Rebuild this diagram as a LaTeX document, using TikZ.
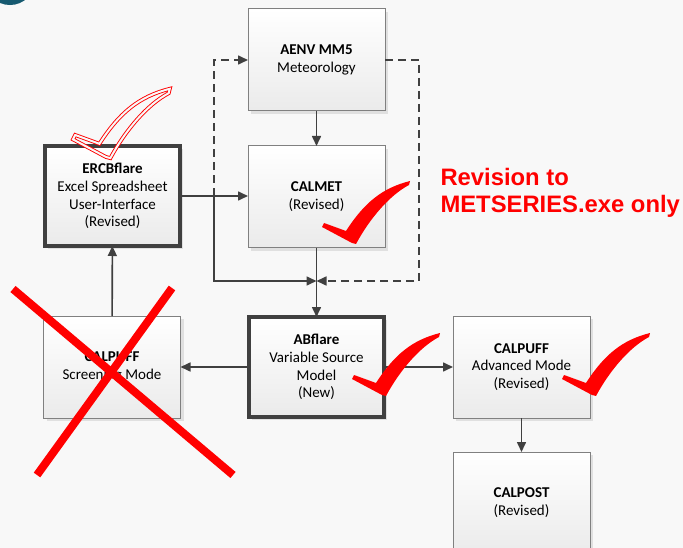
\documentclass[tikz,border=0pt]{standalone}
\usepackage{fontspec}
\setmainfont{Carlito}
\newfontfamily\arialfont{Liberation Sans}
\usetikzlibrary{positioning,arrows.meta,shadows}

\definecolor{linegray}{RGB}{64,64,64}
\definecolor{boxgray}{RGB}{128,128,128}
\definecolor{markred}{RGB}{255,0,0}
\definecolor{ringteal}{RGB}{22,90,112}
\definecolor{paper}{RGB}{248,248,248}

\tikzset{
  checkmark/.pic={
    \path[pic actions] (0,0) -- (-30,-16) -- (-28,-20) -- (-6,-12)
      .. controls (12,-40) and (30,-55) .. (58,-62) -- (57,-58)
      .. controls (38,-48) and (18,-25) .. (4,1) -- cycle;
  }
}

\begin{document}
\begin{tikzpicture}[x=1pt, y=-1pt,
    every node/.style = {align=center, font=\fontsize{15}{17.8}\selectfont},
    block/.style = {draw=boxgray, line width=1pt, minimum width=137pt, minimum height=102pt,
      inner sep=2pt, outer sep=0pt, top color=white, bottom color=black!8,
      drop shadow={shadow xshift=3pt, shadow yshift=-3pt, fill=black!12, opacity=1}},
    mainblock/.style = {block, draw=linegray, line width=4pt, minimum width=135pt, minimum height=100pt},
    link/.style = {draw=linegray, line width=1.6pt, -{Triangle[length=10pt,width=9pt]}},
    dashlink/.style = {link, dash pattern=on 8pt off 5pt}]
  \clip (0,0) rectangle (683,548);
  \fill[paper] (0,0) rectangle (683,548);
  \draw[ringteal, line width=5pt] (10,-20) circle (22.5);

  % boxes
  \node[block] (aenv) at (316.5,60) {\textbf{AENV MM5}\\Meteorology};
  \node[block] (calmet) at (316.5,197) {\textbf{CALMET}\\(Revised)};
  \node[mainblock] (ercb) at (112.5,196) {\textbf{ERCBflare}\\Excel Spreadsheet\\User-Interface\\(Revised)};
  \node[block] (screen) at (112,367) {\textbf{CALPUFF}\\Screening Mode};
  \node[mainblock] (abflare) at (316.5,367) {\textbf{ABflare}\\Variable Source\\Model\\(New)};
  \node[block] (adv) at (521.5,367) {\textbf{CALPUFF}\\Advanced Mode\\(Revised)};
  \node[block] (calpost) at (521.5,503) {\textbf{CALPOST}\\(Revised)};

  \node[anchor=north west, align=left, text=markred, font=\arialfont\bfseries\fontsize{23.8}{27}\selectfont]
    (note) at (437,165) {Revision to\\METSERIES.exe only};

  % connectors
  \coordinate (split) at (214,196);
  \coordinate (merge) at (316.5,281);
  \coordinate (back) at (419,281);
  \draw[link] (aenv) -- (calmet);
  \draw[link] (ercb.east |- split) -- (split -| calmet.west);
  \draw[link] (split) |- (merge);
  \draw[dashlink] (split) |- (aenv.west);
  \draw[dashlink] (aenv.east) -| (back) -- (merge);
  \draw[link] (calmet) -- (abflare);
  \draw[link] (abflare) -- (screen);
  \draw[link] (screen) -- (ercb);
  \draw[link] (abflare) -- (adv);
  \draw[link] (adv) -- (calpost);

  % red marks
  \draw[markred, line width=8pt] (13,289) -- (233,475);
  \draw[markred, line width=8pt] (172,288) -- (37,475);
  \pic[fill=markred] at (352,243) {checkmark};
  \pic[fill=markred] at (382,395) {checkmark};
  \pic[fill=markred] at (592,395) {checkmark};
  \pic[draw=markred, line width=0.9pt, double=paper, double distance=2pt, scale=1.1] at (106,157) {checkmark};
\end{tikzpicture}
\end{document}
